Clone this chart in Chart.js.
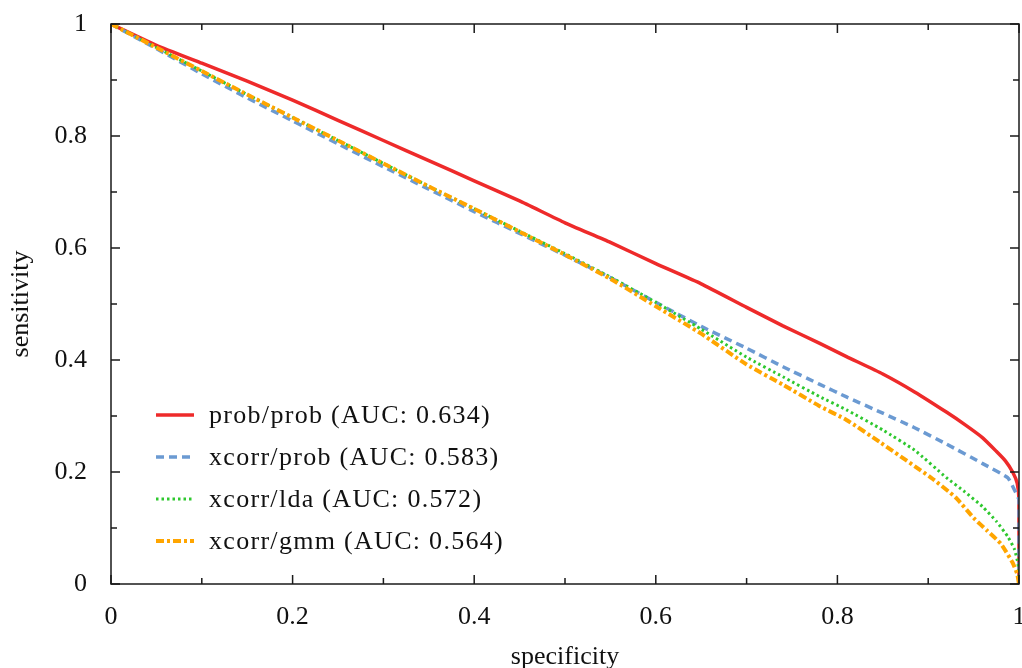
<!DOCTYPE html>
<html>
<head>
<meta charset="utf-8">
<script src="https://cdn.jsdelivr.net/npm/chart.js@4/dist/chart.umd.min.js"></script>
<style>
html,body{margin:0;padding:0;background:#fff;}
#wrap{width:1022px;height:668px;position:relative;}
</style>
</head>
<body>
<div id="wrap"><canvas id="c" width="1022" height="668"></canvas></div>
<script>
const seriesNames = ['prob/prob (AUC: 0.634)', 'xcorr/prob (AUC: 0.583)', 'xcorr/lda (AUC: 0.572)', 'xcorr/gmm (AUC: 0.564)'];

const probProbX = [0, 0.05, 0.1, 0.15, 0.2, 0.25, 0.3, 0.35, 0.4, 0.45, 0.5, 0.55, 0.6, 0.65, 0.7, 0.74, 0.78, 0.81, 0.85, 0.885, 0.92, 0.94, 0.96, 0.975, 0.985, 0.993, 0.998, 1, 1];
const probProbY = [1, 0.962, 0.93, 0.898, 0.864, 0.828, 0.792, 0.756, 0.72, 0.684, 0.645, 0.61, 0.572, 0.536, 0.494, 0.461, 0.43, 0.406, 0.375, 0.343, 0.307, 0.285, 0.261, 0.237, 0.22, 0.2, 0.18, 0.15, 0];

const xcorrProbX = [0, 0.05, 0.1, 0.15, 0.2, 0.25, 0.3, 0.35, 0.4, 0.45, 0.5, 0.55, 0.6, 0.65, 0.7, 0.74, 0.78, 0.81, 0.85, 0.885, 0.92, 0.96, 0.9875, 0.995, 1, 1];
const xcorrProbY = [1, 0.956, 0.911, 0.868, 0.827, 0.786, 0.745, 0.705, 0.665, 0.626, 0.587, 0.547, 0.503, 0.46, 0.421, 0.388, 0.357, 0.334, 0.305, 0.279, 0.25, 0.215, 0.19, 0.168, 0.15, 0];

const xcorrLdaX = [0, 0.05, 0.1, 0.15, 0.2, 0.25, 0.3, 0.35, 0.4, 0.45, 0.5, 0.55, 0.6, 0.65, 0.7, 0.74, 0.78, 0.81, 0.85, 0.885, 0.92, 0.94, 0.96, 0.975, 0.9875, 0.995, 0.999, 1];
const xcorrLdaY = [1, 0.958, 0.916, 0.874, 0.833, 0.792, 0.751, 0.71, 0.67, 0.63, 0.59, 0.548, 0.503, 0.455, 0.405, 0.37, 0.335, 0.311, 0.275, 0.239, 0.19, 0.165, 0.138, 0.112, 0.085, 0.062, 0.035, 0];

const xcorrGmmX = [0, 0.05, 0.1, 0.15, 0.2, 0.25, 0.3, 0.35, 0.4, 0.45, 0.5, 0.55, 0.6, 0.65, 0.7, 0.74, 0.78, 0.81, 0.848, 0.903, 0.93, 0.95, 0.965, 0.98, 0.993, 0.998, 1];
const xcorrGmmY = [1, 0.958, 0.916, 0.874, 0.833, 0.792, 0.751, 0.71, 0.67, 0.629, 0.588, 0.545, 0.496, 0.447, 0.392, 0.356, 0.318, 0.293, 0.252, 0.19, 0.155, 0.118, 0.095, 0.072, 0.038, 0.018, 0];

const tickValues = [0, 0.2, 0.4, 0.6, 0.8, 1];
const tickLabels = ['0', '0.2', '0.4', '0.6', '0.8', '1'];
const minorTickValues = [0.1, 0.3, 0.5, 0.7, 0.9];

function pts(xs, ys){ return xs.map((x,i)=>({x:x, y:ys[i]})); }

const FONT = "'Liberation Serif', 'Times New Roman', serif";

const framePlugin = {
  id: 'frame',
  afterDatasetsDraw(chart){
    const ctx = chart.ctx, a = chart.chartArea;
    const xs = chart.scales.x, ys = chart.scales.y;
    ctx.save();
    ctx.strokeStyle = '#1a1a1a';
    ctx.lineWidth = 1.5;
    ctx.strokeRect(a.left, a.top, a.right - a.left, a.bottom - a.top);
    ctx.beginPath();
    const draw = (vals, len) => {
      vals.forEach(v => {
        const px = xs.getPixelForValue(v);
        ctx.moveTo(px, a.bottom); ctx.lineTo(px, a.bottom - len);
        ctx.moveTo(px, a.top); ctx.lineTo(px, a.top + len);
        const py = ys.getPixelForValue(v);
        ctx.moveTo(a.left, py); ctx.lineTo(a.left + len, py);
        ctx.moveTo(a.right, py); ctx.lineTo(a.right - len, py);
      });
    };
    draw(tickValues, 9);
    draw(minorTickValues, 6);
    ctx.stroke();
    ctx.restore();
  }
};

const legendPlugin = {
  id: 'gnuLegend',
  afterDraw(chart){
    const ctx = chart.ctx;
    const ys = [415, 457, 499, 541];
    ctx.save();
    chart.data.datasets.forEach((ds, i) => {
      const y = ys[i];
      ctx.beginPath();
      ctx.strokeStyle = ds.borderColor;
      ctx.lineWidth = ds.borderWidth;
      ctx.setLineDash(ds.borderDash || []);
      ctx.lineCap = 'butt';
      ctx.moveTo(156, y); ctx.lineTo(194, y);
      ctx.stroke();
      ctx.setLineDash([]);
      ctx.fillStyle = '#111';
      ctx.font = '26px ' + FONT;
      try { ctx.letterSpacing = '1.3px'; } catch(e) {}
      ctx.textBaseline = 'alphabetic';
      ctx.textAlign = 'left';
      ctx.fillText(ds.label, 209, y + 8);
    });
    ctx.restore();
  }
};

new Chart(document.getElementById('c'), {
  type: 'line',
  data: {
    datasets: [
      { label: seriesNames[0], data: pts(probProbX, probProbY), borderColor: '#ee2a2a', borderWidth: 3.5, borderDash: [], pointRadius: 0, tension: 0.15, order: 4 },
      { label: seriesNames[1], data: pts(xcorrProbX, xcorrProbY), borderColor: '#6b9ad2', borderWidth: 3.5, borderDash: [8, 5], pointRadius: 0, tension: 0.15, order: 3 },
      { label: seriesNames[2], data: pts(xcorrLdaX, xcorrLdaY), borderColor: '#2ec82e', borderWidth: 3, borderDash: [2.5, 3], pointRadius: 0, tension: 0.15, order: 2 },
      { label: seriesNames[3], data: pts(xcorrGmmX, xcorrGmmY), borderColor: '#ffa500', borderWidth: 4, borderDash: [8, 3, 3, 3], pointRadius: 0, tension: 0.15, order: 1 }
    ]
  },
  options: {
    responsive: false,
    animation: false,
    events: [],
    layout: { padding: { left: 0, right: 3, top: 24, bottom: 0 } },
    plugins: { legend: { display: false }, tooltip: { enabled: false }, title: { display: false } },
    scales: {
      x: {
        type: 'linear', min: 0, max: 1,
        grid: { display: false, drawTicks: false },
        border: { display: false },
        afterFit(s){ s.height = 84; s.paddingLeft = 0; s.paddingRight = 0; },
        afterBuildTicks(s){ s.ticks = tickValues.map(v => ({ value: v })); },
        ticks: { color: '#111', font: { family: FONT, size: 26 }, padding: 18, maxRotation: 0,
                 callback: (v) => tickLabels[tickValues.indexOf(v)] },
        title: { display: true, text: 'specificity', color: '#111', font: { family: FONT, size: 26, lineHeight: 1 }, padding: { top: 0, bottom: -2 } }
      },
      y: {
        type: 'linear', min: 0, max: 1,
        grid: { display: false, drawTicks: false },
        border: { display: false },
        afterFit(s){ s.width = 111; s.paddingTop = 0; s.paddingBottom = 0; },
        afterBuildTicks(s){ s.ticks = tickValues.map(v => ({ value: v })); },
        ticks: { color: '#111', font: { family: FONT, size: 26 }, padding: 24,
                 callback: (v) => tickLabels[tickValues.indexOf(v)] },
        title: { display: true, text: 'sensitivity', color: '#111', font: { family: FONT, size: 26, lineHeight: 1 }, padding: { top: 8, bottom: 0 } }
      }
    }
  },
  plugins: [framePlugin, legendPlugin]
});
</script>
</body>
</html>
